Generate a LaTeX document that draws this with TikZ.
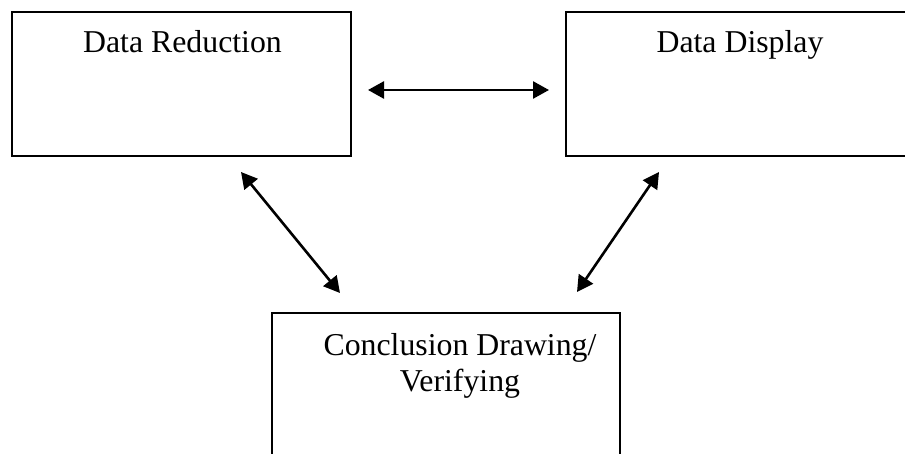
\documentclass[tikz,border=0pt]{standalone}
\usepackage{fontspec}
\setmainfont{Liberation Serif}
\usetikzlibrary{arrows.meta}
\begin{document}
\begin{tikzpicture}[x=1pt,y=-1pt,
  box/.style={draw=black,line width=1.6pt,inner sep=0pt,anchor=north west},
  lbl/.style={font=\fontsize{31.8}{36}\selectfont,anchor=base,inner sep=0pt,align=center},
  conn/.style={line width=2.6pt,{Triangle[length=16pt,width=17pt]}-{Triangle[length=16pt,width=17pt]}}]
\useasboundingbox (0,0) rectangle (905,454);
\clip (0,0) rectangle (905,454);
\node[box,minimum width=339pt,minimum height=144pt] (dr) at (11,11) {};
\node[box,minimum width=350pt,minimum height=144pt] (dd) at (565,11) {};
\node[box,minimum width=348pt,minimum height=160pt] (cd) at (271,312) {};
\node[lbl] (tdr) at (182.5,53) {Data Reduction};
\node[lbl] (tdd) at (740,53) {Data Display};
\node[lbl,anchor=north] (tcd) at (460,333) {Conclusion Drawing/\\Verifying};
\coordinate (a1) at (368,90);
\coordinate (a2) at (549,90);
\coordinate (b1) at (241,172);
\coordinate (b2) at (340,293);
\coordinate (c1) at (659,172);
\coordinate (c2) at (577,292);
\draw[conn] (a1) -- (a2);
\draw[conn] (b1) -- (b2);
\draw[conn] (c1) -- (c2);
\end{tikzpicture}
\end{document}
